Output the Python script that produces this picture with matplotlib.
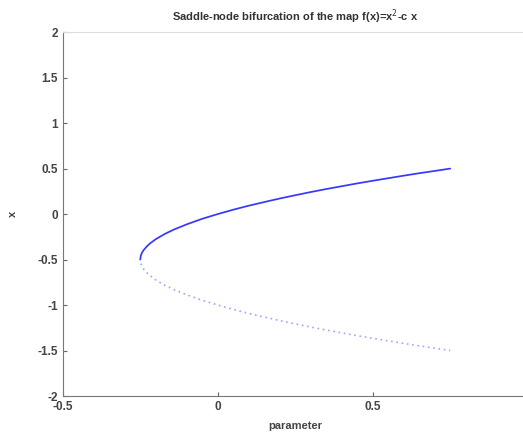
import matplotlib
matplotlib.use("Agg")
import matplotlib.pyplot as plt

plt.rcParams['font.family'] = ['Liberation Sans', 'DejaVu Sans']

param_upper = [-0.25, -0.248, -0.245, -0.24, -0.23, -0.22, -0.2, -0.17, -0.14, -0.1, -0.05, 0.0, 0.05,
               0.1, 0.15, 0.2, 0.25, 0.3, 0.35, 0.4, 0.45, 0.5, 0.55, 0.6, 0.65, 0.7, 0.75]
x_upper = [-0.5, -0.455, -0.43, -0.40, -0.36, -0.327, -0.276, -0.217, -0.168, -0.113, -0.052, 0.0, 0.048,
           0.092, 0.132, 0.171, 0.207, 0.242, 0.275, 0.306, 0.337, 0.366, 0.394, 0.422, 0.449, 0.474, 0.5]
param_lower = [-0.248, -0.245, -0.24, -0.23, -0.22, -0.2, -0.17, -0.14, -0.1, -0.05, 0.0, 0.05,
               0.1, 0.15, 0.2, 0.25, 0.3, 0.35, 0.4, 0.45, 0.5, 0.55, 0.6, 0.65, 0.7, 0.75]
x_lower = [-0.545, -0.57, -0.60, -0.64, -0.673, -0.724, -0.783, -0.832, -0.887, -0.948, -1.0, -1.048,
           -1.092, -1.132, -1.171, -1.207, -1.242, -1.275, -1.306, -1.337, -1.366, -1.394, -1.422,
           -1.449, -1.474, -1.5]
xticks = [-0.5, 0, 0.5]
xtick_labels = ['-0.5', '0', '0.5']
yticks = [-2, -1.5, -1, -0.5, 0, 0.5, 1, 1.5, 2]
ytick_labels = ['-2', '-1.5', '-1', '-0.5', '0', '0.5', '1', '1.5', '2']

fig = plt.figure(figsize=(5.23, 4.40), dpi=100)
ax = fig.add_axes([0.12, 0.10, 0.889, 0.827])

ax.plot(param_upper, x_upper, color='#1414ff', lw=1.25, alpha=0.85, solid_capstyle='round')
ax.plot(param_lower, x_lower, color='#3333ff', lw=1.2, alpha=0.45, linestyle=(0, (1, 2.2)))

ax.set_xlim(-0.5, 1.0)
ax.set_ylim(-2, 2)
ax.set_xticks(xticks)
ax.set_xticklabels(xtick_labels)
ax.set_yticks(yticks)
ax.set_yticklabels(ytick_labels)
ax.tick_params(direction='in', length=3, width=0.8, color='#666666', labelsize=8.5,
               labelcolor='#444444', top=False, right=False)
for lbl in ax.get_xticklabels() + ax.get_yticklabels():
    lbl.set_fontweight('bold')

ax.spines['left'].set_color('#777777')
ax.spines['bottom'].set_color('#777777')
ax.spines['top'].set_color('#dddddd')
ax.spines['right'].set_visible(False)

ax.set_title('Saddle-node bifurcation of the map f(x)=x$^2$-c x', fontsize=8, fontweight='bold',
             color='#333333', pad=8)
ax.set_xlabel('parameter', fontsize=8, fontweight='bold', color='#444444', labelpad=6)
ax.set_ylabel('x', fontsize=8, fontweight='bold', color='#444444', labelpad=14)

fig.savefig('out.png', dpi=100)
